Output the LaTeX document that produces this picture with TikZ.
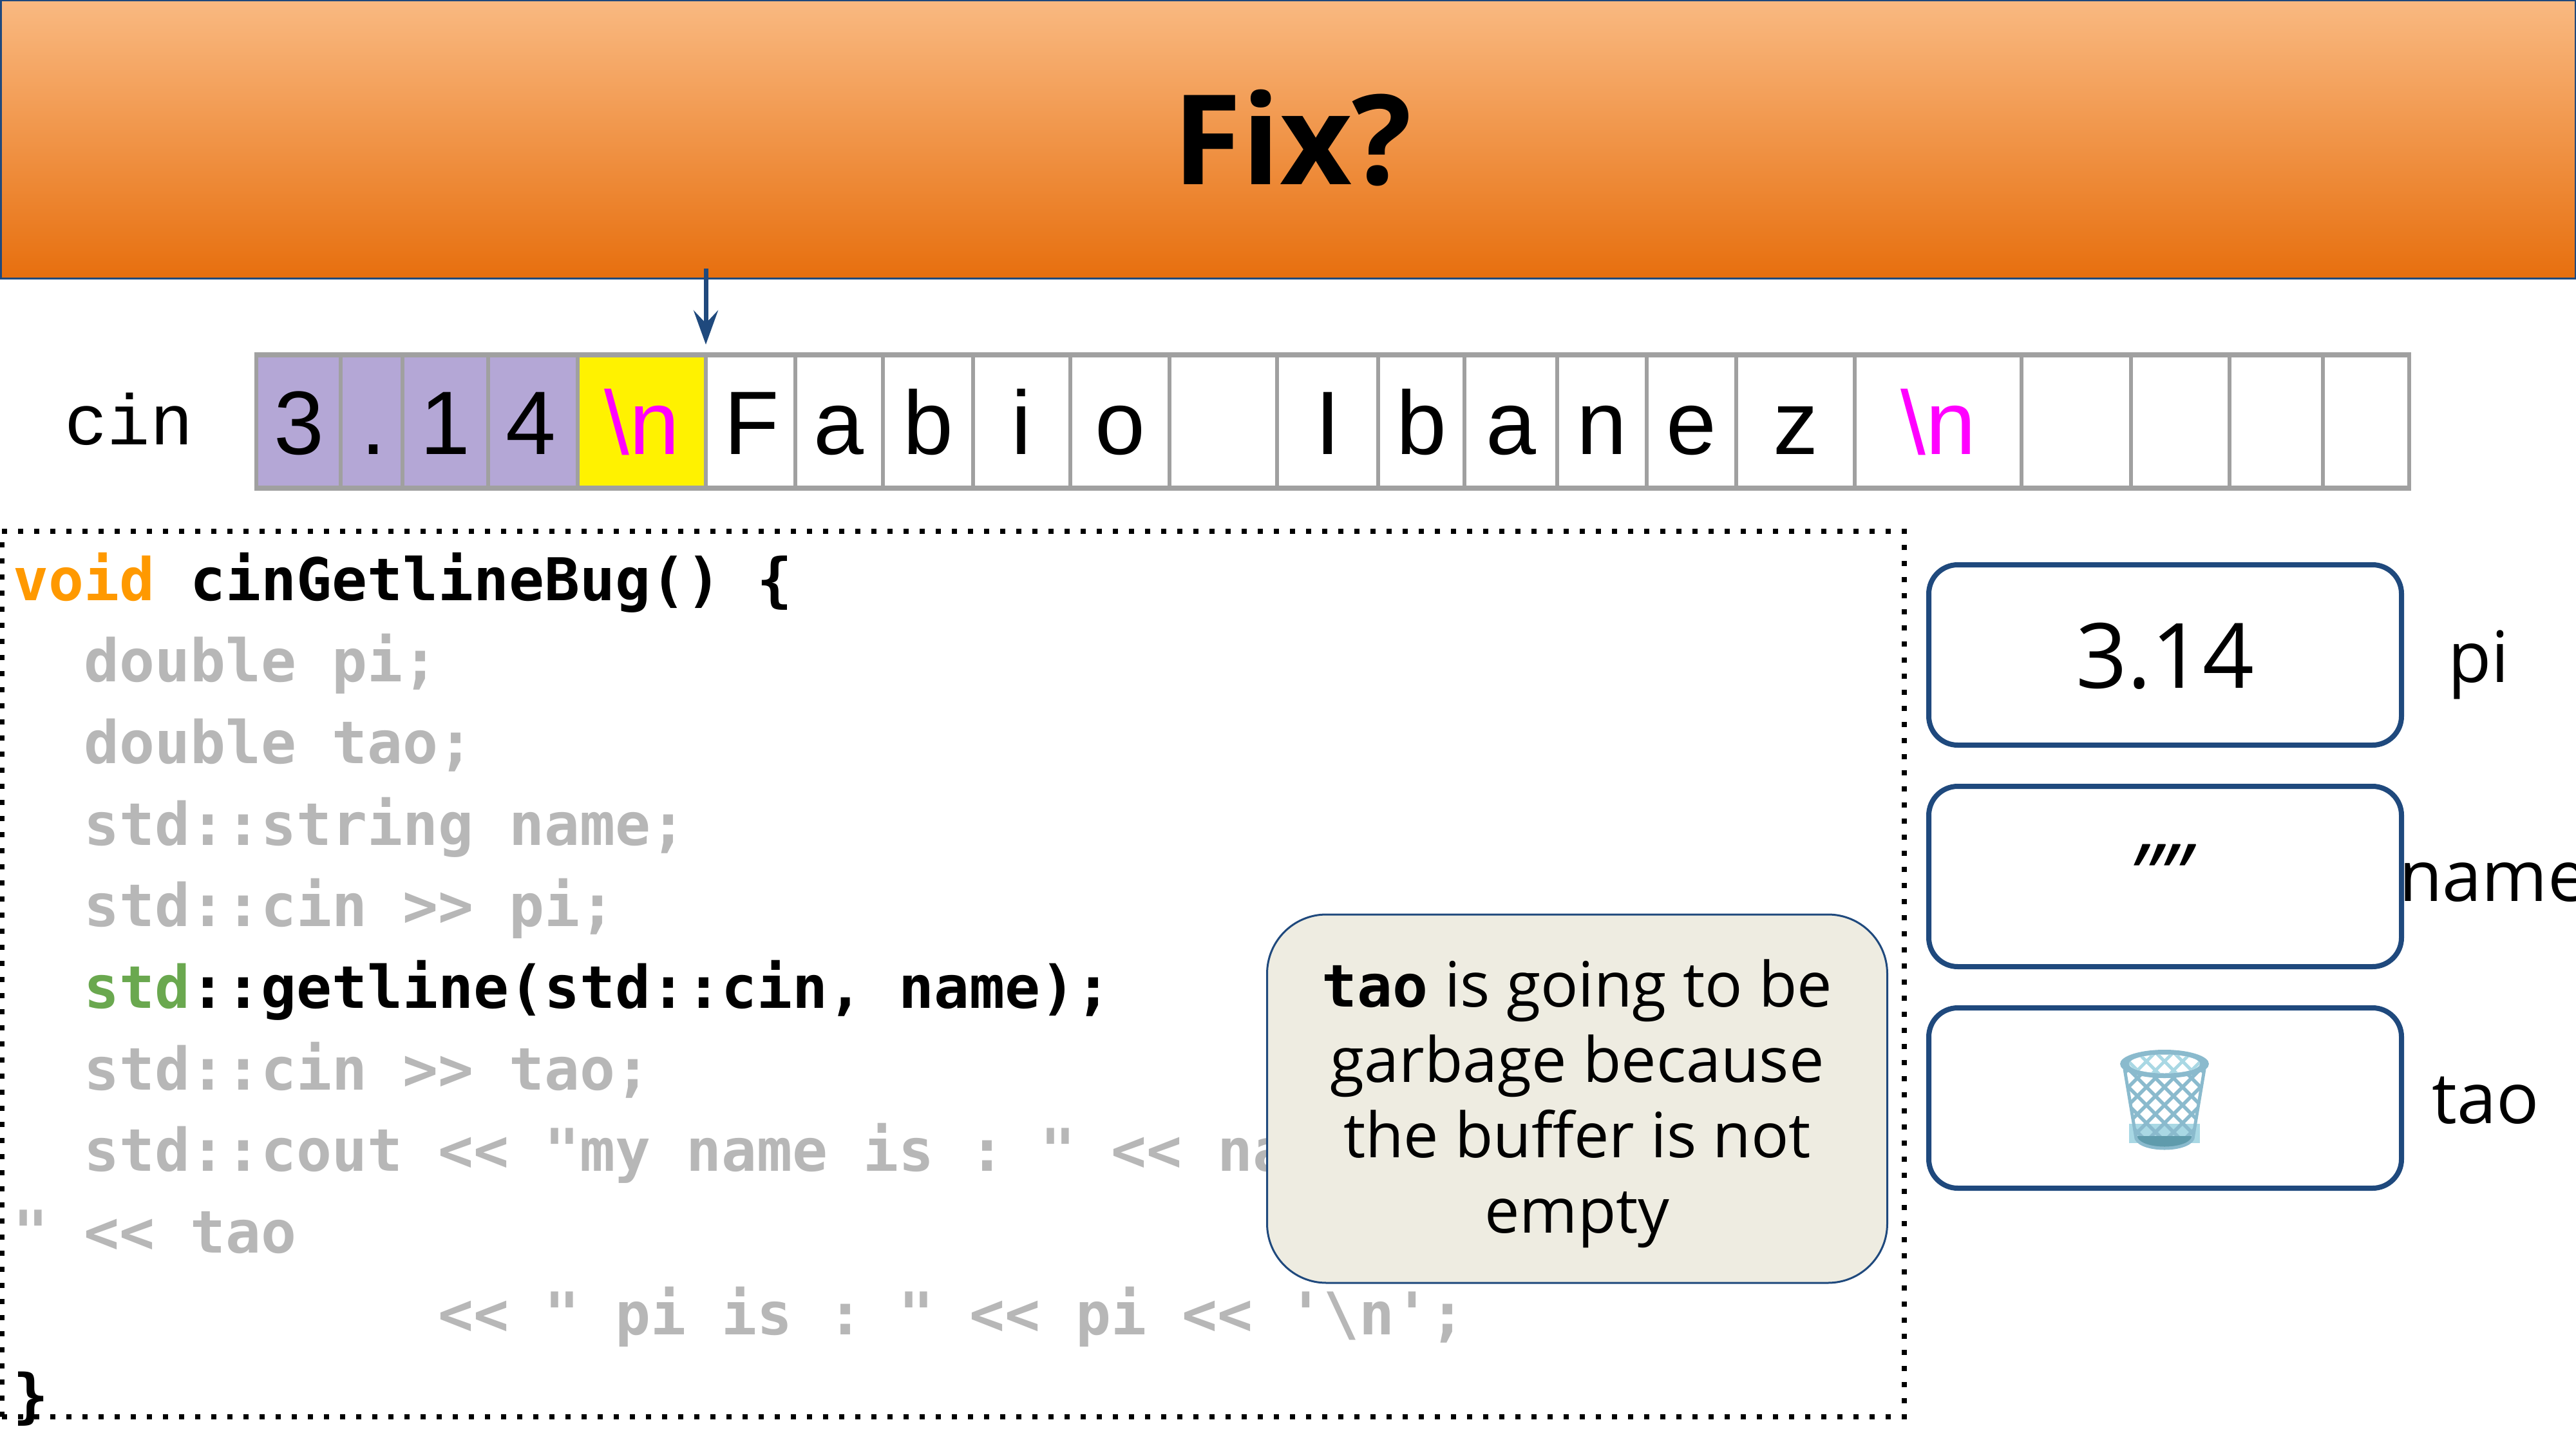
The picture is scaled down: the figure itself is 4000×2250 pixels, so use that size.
\documentclass[tikz,border=0pt]{standalone}
\usepackage{fontspec}
\setmainfont{Open Sans}
\newfontfamily\armo{Liberation Sans}
\newfontfamily\labelmono{Liberation Mono}
\newfontfamily\codefam{DejaVu Sans Mono}
\usetikzlibrary{arrows.meta}
\definecolor{navy}{HTML}{1F497D}
\definecolor{headtop}{HTML}{F9B981}
\definecolor{headbot}{HTML}{E76F0E}
\definecolor{gridgray}{HTML}{A0A0A0}
\definecolor{lilac}{HTML}{B4A7D6}
\definecolor{codegray}{HTML}{B7B7B7}
\definecolor{codeorange}{HTML}{FF9900}
\definecolor{codegreen}{HTML}{6AA84F}
\definecolor{calloutfill}{HTML}{EEECE1}
\definecolor{magentan}{HTML}{FF00FF}
\definecolor{binmid}{HTML}{8ABACD}
\definecolor{binlight}{HTML}{A9D8E4}
\definecolor{bindark}{HTML}{5F9BAC}
\newcommand{\codeset}{\frenchspacing\codefam\bfseries\fontsize{91.4}{100}\selectfont}
\newcommand{\cellset}{\armo\fontsize{140}{150}\selectfont}
\newcommand{\cellat}[6]{%
  \node[cellbox,fill=#4,minimum width={#3-#2},anchor=center] (c#1) at ({(#2+#3)/2},654.5) {};
  \node[celltext,text=#5] (t#1) at ({(#2+#3)/2+#6},705) {\csname celltxt#1\endcsname};
}
\newcommand{\codeline}[4]{%
  \node[codetext] (#1) at ({20+55*#2},{932+126.7*#3}) {#4};
}
\tikzset{
  x=1pt,y=-1pt,
  cellbox/.style={draw=gridgray,line width=6pt,minimum height=207pt,inner sep=0pt,outer sep=0pt},
  celltext/.style={anchor=base,inner sep=0pt,font=\cellset},
  codetext/.style={anchor=base west,inner sep=0pt,font=\codeset,text=codegray},
  varbox/.style={draw=navy,line width=8pt,rounded corners=45pt,minimum width=734pt,minimum height=280pt,inner sep=0pt,outer sep=0pt,anchor=north west},
  varname/.style={anchor=base,inner sep=0pt,font=\fontsize{110}{120}\selectfont},
}
\expandafter\def\csname celltxt1\endcsname{3}
\expandafter\def\csname celltxt2\endcsname{.}
\expandafter\def\csname celltxt3\endcsname{1}
\expandafter\def\csname celltxt4\endcsname{4}
\expandafter\def\csname celltxt5\endcsname{\textbackslash n}
\expandafter\def\csname celltxt6\endcsname{F}
\expandafter\def\csname celltxt7\endcsname{a}
\expandafter\def\csname celltxt8\endcsname{b}
\expandafter\def\csname celltxt9\endcsname{i}
\expandafter\def\csname celltxt10\endcsname{o}
\expandafter\def\csname celltxt11\endcsname{}
\expandafter\def\csname celltxt12\endcsname{I}
\expandafter\def\csname celltxt13\endcsname{b}
\expandafter\def\csname celltxt14\endcsname{a}
\expandafter\def\csname celltxt15\endcsname{n}
\expandafter\def\csname celltxt16\endcsname{e}
\expandafter\def\csname celltxt17\endcsname{z}
\expandafter\def\csname celltxt18\endcsname{\textbackslash n}
\expandafter\def\csname celltxt19\endcsname{}
\expandafter\def\csname celltxt20\endcsname{}
\expandafter\def\csname celltxt21\endcsname{}
\expandafter\def\csname celltxt22\endcsname{}
\begin{document}
\begin{tikzpicture}
\useasboundingbox (0,0) rectangle (4000,2250);
% header
\node[draw=navy,line width=3pt,top color=headtop,bottom color=headbot,minimum width=3998pt,minimum height=431pt,inner sep=0pt,outer sep=0pt,anchor=north west] (header) at (1,1) {};
\node[anchor=base,inner sep=0pt,font=\bfseries\fontsize{194}{210}\selectfont] (title) at (2007,287) {Fix?};
% cin label
\node[anchor=base,inner sep=0pt,font=\labelmono\fontsize{111}{120}\selectfont] (cinlabel) at (200,690) {cin};
% cells
\cellat{1}{398}{529}{lilac}{black}{1}
\cellat{2}{529}{625}{lilac}{black}{3}
\cellat{3}{625}{758}{lilac}{black}{0}
\cellat{4}{758}{897}{lilac}{black}{-3}
\cellat{5}{897}{1096}{yellow}{magentan}{0}
\cellat{6}{1096}{1235}{white}{black}{2}
\cellat{7}{1235}{1371}{white}{black}{-1}
\cellat{8}{1371}{1511}{white}{black}{0}
\cellat{9}{1511}{1662}{white}{black}{0}
\cellat{10}{1662}{1816}{white}{black}{0}
\cellat{11}{1816}{1983}{white}{black}{0}
\cellat{12}{1983}{2140}{white}{black}{0}
\cellat{13}{2140}{2274}{white}{black}{0}
\cellat{14}{2274}{2418}{white}{black}{0}
\cellat{15}{2418}{2557}{white}{black}{0}
\cellat{16}{2557}{2696}{white}{black}{0}
\cellat{17}{2696}{2880}{white}{black}{0}
\cellat{18}{2880}{3139}{white}{magentan}{0}
\cellat{19}{3139}{3309}{white}{black}{0}
\cellat{20}{3309}{3462}{white}{black}{0}
\cellat{21}{3462}{3607}{white}{black}{0}
\cellat{22}{3607}{3741}{white}{black}{0}
\draw[gridgray,line width=8pt] (395,551) -- (3744,551) (395,758) -- (3744,758);
% pointer
\coordinate (ptrstart) at (1096,417);
\coordinate (ptrend) at (1096,535);
\draw[navy,line width=7pt,-{Stealth[length=53pt,width=38pt,inset=20pt]}] (ptrstart) -- (ptrend);
% code frame
\node[draw=black,line width=8pt,dash pattern=on 8pt off 17pt,minimum width=2954pt,minimum height=1375pt,inner sep=0pt,outer sep=0pt,anchor=north west] (frame) at (3,825) {};
% code
\codeline{code0}{0}{0}{\textcolor{codeorange}{void} \textcolor{black}{cinGetlineBug() \{}}
\codeline{code1}{2}{1}{double pi;}
\codeline{code2}{2}{2}{double tao;}
\codeline{code3}{2}{3}{std::string name;}
\codeline{code4}{2}{4}{std::cin >{}> pi;}
\codeline{code5}{2}{5}{\textcolor{codegreen}{std}\textcolor{black}{::getline(std::cin, name);}}
\codeline{code6}{2}{6}{std::cin >{}> tao;}
\codeline{code7}{2}{7}{std::cout <{}< "my name is : " <{}< na}
\codeline{code8}{0}{8}{"~<{}< tao}
\codeline{code9}{12}{9}{<{}< " pi is : " <{}< pi <{}< '\textbackslash n';}
\codeline{code10}{0}{10}{\textcolor{black}{\}}}
% callout
\node[draw=navy,line width=3pt,fill=calloutfill,rounded corners=92pt,minimum width=963pt,minimum height=572pt,inner sep=0pt,outer sep=0pt] (callout) at (2449,1706) {};
\node[inner sep=0pt,align=center,font=\fontsize{97}{117}\selectfont] (callouttext) at (2449,1714) {{\codeset tao} is going to be\\garbage because\\the buffer is not\\empty};
% variables
\node[varbox] (boxpi) at (2995,877) {};
\node[varbox] (boxname) at (2995,1221) {};
\node[varbox] (boxtao) at (2995,1565) {};
\node[anchor=base,inner sep=0pt,font=\fontsize{140}{150}\selectfont] (valpi) at (3362,1068) {3.14};
\node[anchor=base,inner sep=0pt,font=\itshape\fontsize{135}{150}\selectfont] (valname) at (3352,1407) {""};
\node[varname] (lblpi) at (3849,1059) {pi};
\node[varname,anchor=base west] (lblname) at (3725,1399) {name};
\node[varname] (lbltao) at (3860,1744) {tao};
% waste basket
\begin{scope}
  \fill[binlight] (3306,1745) rectangle (3416,1775);
  \begin{scope}
    \clip (3299,1660) -- (3423,1660) -- (3405,1768) .. controls (3395,1788) and (3327,1788) .. (3317,1768) -- cycle;
    \fill[white] (3290,1655) rectangle (3430,1745);
    \foreach \k in {-6,...,6} {
      \draw[binmid,line width=5.5pt] ({3333+28*\k},1660) -- ({3473+28*\k},1800);
      \draw[binmid,line width=5.5pt] ({3389+28*\k},1660) -- ({3249+28*\k},1800);
    }
    \fill[bindark] (3290,1764) rectangle (3430,1790);
  \end{scope}
  \draw[binmid,line width=5pt,line join=round] (3299,1660) -- (3317,1768) .. controls (3327,1788) and (3395,1788) .. (3405,1768) -- (3423,1660);
  \fill[binmid] (3361,1652) ellipse [x radius=69,y radius=22];
  \begin{scope}
    \clip (3361,1652) ellipse [x radius=55,y radius=14.5];
    \fill[white] (3300,1630) rectangle (3420,1670);
    \foreach \k in {-6,...,6} {
      \draw[binlight,line width=5pt] ({3333+28*\k},1620) -- ({3393+28*\k},1680);
      \draw[binlight,line width=5pt] ({3389+28*\k},1620) -- ({3329+28*\k},1680);
    }
  \end{scope}
\end{scope}
\end{tikzpicture}
\end{document}
